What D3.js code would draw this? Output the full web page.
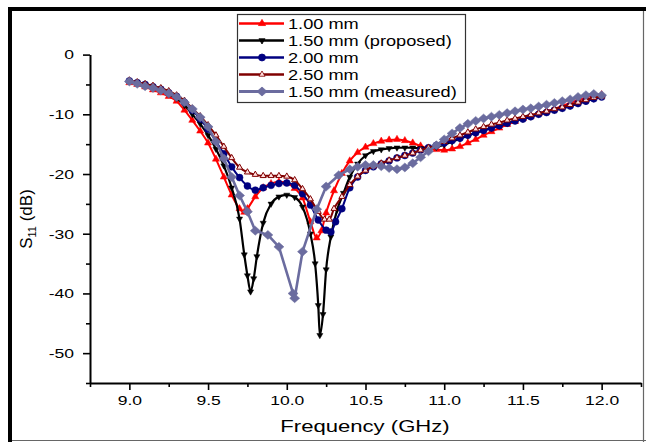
<!DOCTYPE html>
<html>
<head>
<meta charset="utf-8">
<script src="https://cdn.jsdelivr.net/npm/d3@7"></script>
<style>
  body { margin: 0; background: #fff; }
  text { font-family: "Liberation Sans", Arial, sans-serif; fill: #000; }
</style>
</head>
<body>
<div id="chart"></div>
<script>
// Data (frequency in GHz, S11 in dB)
var f100 = [9.00,9.05,9.10,9.15,9.20,9.25,9.30,9.35,9.40,9.45,9.50,9.55,9.60,9.65,9.70,9.73,9.75,9.80,9.85,9.90,9.95,10.00,10.05,10.10,10.15,10.19,10.22,10.25,10.30,10.35,10.40,10.45,10.50,10.55,10.60,10.65,10.70,10.75,10.80,10.85,10.90,10.95,11.00,11.05,11.10,11.15,11.20,11.25,11.30,11.35,11.40,11.45,11.50,11.55,11.60,11.65,11.70,11.75,11.80,11.85,11.90,11.95,12.00];
var s100 = [-4.7,-5.0,-5.4,-5.9,-6.4,-7.0,-7.8,-9.3,-11.0,-12.8,-14.8,-17.5,-20.5,-23.5,-25.8,-26.4,-25.8,-23.8,-22.3,-21.6,-21.3,-21.5,-22.4,-24.0,-28.0,-30.7,-29.5,-26.5,-22.8,-19.9,-17.8,-16.4,-15.5,-14.9,-14.5,-14.3,-14.2,-14.4,-14.8,-15.3,-15.7,-15.9,-16.0,-15.8,-15.4,-14.8,-14.2,-13.5,-12.9,-12.3,-11.7,-11.2,-10.7,-10.3,-9.9,-9.5,-9.1,-8.6,-8.1,-7.6,-7.2,-6.8,-6.7];

var f150 = [9.00,9.05,9.10,9.15,9.20,9.25,9.30,9.35,9.40,9.45,9.50,9.55,9.60,9.65,9.70,9.73,9.75,9.77,9.79,9.81,9.85,9.90,9.95,10.00,10.05,10.10,10.15,10.18,10.20,10.21,10.23,10.25,10.28,10.32,10.36,10.40,10.45,10.50,10.55,10.60,10.65,10.70,10.75,10.80,10.85,10.90,10.95,11.00,11.05,11.10,11.15,11.20,11.25,11.30,11.35,11.40,11.45,11.50,11.55,11.60,11.65,11.70,11.75,11.80,11.85,11.90,11.95,12.00];
var s150 = [-4.5,-4.8,-5.1,-5.5,-6.0,-6.6,-7.3,-8.5,-10.0,-11.6,-13.5,-15.8,-18.6,-22.3,-27.5,-33.5,-37.0,-39.7,-37.5,-33.8,-28.2,-25.0,-23.8,-23.5,-23.9,-25.5,-30.0,-35.0,-42.0,-47.0,-43.5,-36.0,-30.5,-26.0,-23.2,-20.5,-18.3,-16.9,-16.2,-15.9,-15.7,-15.6,-15.6,-15.6,-15.7,-15.7,-15.5,-15.1,-14.6,-14.1,-13.6,-13.1,-12.7,-12.3,-11.9,-11.5,-11.1,-10.8,-10.4,-10.0,-9.7,-9.3,-9.0,-8.6,-8.2,-7.8,-7.4,-7.0];

var f200 = [9.00,9.05,9.10,9.15,9.20,9.25,9.30,9.35,9.40,9.45,9.50,9.55,9.60,9.65,9.70,9.75,9.80,9.85,9.90,9.95,10.00,10.05,10.10,10.15,10.20,10.25,10.28,10.31,10.35,10.40,10.45,10.50,10.55,10.60,10.65,10.70,10.75,10.80,10.85,10.90,10.95,11.00,11.05,11.10,11.15,11.20,11.25,11.30,11.35,11.40,11.45,11.50,11.55,11.60,11.65,11.70,11.75,11.80,11.85,11.90,11.95,12.00];
var s200 = [-4.4,-4.7,-5.0,-5.4,-5.8,-6.4,-7.0,-8.0,-9.3,-10.8,-12.5,-14.5,-16.6,-18.8,-20.6,-22.0,-22.7,-22.3,-21.9,-21.6,-21.5,-21.9,-23.3,-25.2,-27.7,-29.4,-29.7,-28.0,-25.8,-22.3,-20.5,-19.4,-18.8,-18.3,-17.8,-17.3,-16.9,-16.5,-16.0,-15.6,-15.2,-14.8,-14.4,-14.0,-13.5,-13.1,-12.7,-12.3,-11.9,-11.5,-11.1,-10.8,-10.4,-10.0,-9.7,-9.3,-9.0,-8.6,-8.2,-7.8,-7.4,-7.1];

var f250 = [9.00,9.05,9.10,9.15,9.20,9.25,9.30,9.35,9.40,9.45,9.50,9.55,9.60,9.65,9.70,9.75,9.80,9.85,9.90,9.95,10.00,10.05,10.10,10.15,10.20,10.24,10.27,10.30,10.35,10.40,10.45,10.50,10.55,10.60,10.65,10.70,10.75,10.80,10.85,10.90,10.95,11.00,11.05,11.10,11.15,11.20,11.25,11.30,11.35,11.40,11.45,11.50,11.55,11.60,11.65,11.70,11.75,11.80,11.85,11.90,11.95,12.00];
var s250 = [-4.3,-4.6,-4.9,-5.2,-5.6,-6.1,-6.8,-7.7,-9.0,-10.3,-11.8,-13.5,-15.4,-17.3,-18.9,-19.7,-20.1,-20.3,-20.3,-20.3,-20.4,-21.0,-22.5,-24.2,-26.3,-27.6,-27.6,-25.8,-23.8,-21.8,-20.4,-19.4,-18.7,-18.2,-17.7,-17.3,-16.9,-16.5,-16.0,-15.6,-15.1,-14.6,-14.0,-13.5,-13.0,-12.5,-12.1,-11.7,-11.4,-11.0,-10.7,-10.4,-10.1,-9.8,-9.5,-9.1,-8.8,-8.4,-8.0,-7.6,-7.2,-7.0];

var fMeas = [9.00,9.05,9.10,9.15,9.20,9.25,9.30,9.35,9.40,9.45,9.50,9.55,9.60,9.65,9.70,9.75,9.80,9.88,9.95,10.04,10.05,10.10,10.19,10.25,10.33,10.40,10.45,10.50,10.55,10.60,10.65,10.70,10.75,10.80,10.85,10.90,10.95,11.00,11.05,11.10,11.15,11.20,11.25,11.30,11.35,11.40,11.45,11.50,11.55,11.60,11.65,11.70,11.75,11.80,11.85,11.90,11.95,12.00];
var sMeas = [-4.5,-4.9,-5.3,-5.6,-6.0,-6.5,-7.1,-8.0,-9.1,-10.5,-12.1,-14.6,-17.4,-20.5,-23.6,-26.3,-29.5,-30.2,-32.2,-40.0,-40.8,-33.0,-25.9,-22.1,-20.2,-19.2,-18.8,-18.5,-18.5,-18.7,-19.0,-19.2,-18.9,-18.2,-17.2,-16.2,-15.2,-14.2,-13.2,-12.3,-11.6,-11.1,-10.7,-10.4,-10.1,-9.8,-9.5,-9.2,-9.0,-8.7,-8.4,-8.1,-7.8,-7.5,-7.1,-6.8,-6.6,-6.8];

var seriesNames = ["1.00 mm", "1.50 mm (proposed)", "2.00 mm", "2.50 mm", "1.50 mm (measured)"];
var xMajor = [9.0, 9.5, 10.0, 10.5, 11.0, 11.5, 12.0];
var xMinor = [8.75, 9.25, 9.75, 10.25, 10.75, 11.25, 11.75, 12.25];
var yMajor = [0, -10, -20, -30, -40, -50];
var yMinor = [-5, -15, -25, -35, -45, -55];

var svgWidth = 646, svgHeight = 442;
var stretch = "scale(1.3,1)";

var svg = d3.select("#chart").append("svg")
  .attr("width", svgWidth)
  .attr("height", svgHeight);

svg.append("rect").attr("width", svgWidth).attr("height", svgHeight).attr("fill", "#fff");

// frame
svg.append("rect").attr("x", 8).attr("y", 7).attr("width", 638).attr("height", 4).attr("fill", "#000");
svg.append("rect").attr("x", 8).attr("y", 7).attr("width", 4).attr("height", 435).attr("fill", "#000");
svg.append("line").attr("x1", 643.5).attr("x2", 643.5).attr("y1", 11).attr("y2", 442)
  .attr("stroke", "#666").attr("stroke-width", 1.2);
svg.append("line").attr("x1", 12).attr("x2", 646).attr("y1", 440.5).attr("y2", 440.5)
  .attr("stroke", "#666").attr("stroke-width", 1.2);

// scales
var x = d3.scaleLinear().domain([8.75, 12.25]).range([90, 641]);
var y = d3.scaleLinear().domain([-55, 0]).range([383, 54.6]);

// axes
var xAxisG = svg.append("g").attr("transform", "translate(0,383)");
xAxisG.call(d3.axisBottom(x).tickValues(xMajor).tickSize(7).tickSizeOuter(0).tickFormat(d3.format(".1f")));
xAxisG.append("g").call(d3.axisBottom(x).tickValues(xMinor).tickSize(4).tickFormat(""))
  .select(".domain").remove();

var yAxisG = svg.append("g").attr("transform", "translate(90,0)");
yAxisG.call(d3.axisLeft(y).tickValues(yMajor).tickSize(7).tickSizeOuter(0).tickFormat(function(d) { return String(d); }));
yAxisG.append("g").call(d3.axisLeft(y).tickValues(yMinor).tickSize(4).tickFormat(""))
  .select(".domain").remove();

svg.selectAll(".domain").attr("stroke", "#000").attr("stroke-width", 2);
svg.selectAll(".tick line").attr("stroke", "#000").attr("stroke-width", 1.6);

xAxisG.selectAll(".tick text")
  .attr("font-size", "13.5px")
  .attr("font-family", "Liberation Sans, Arial, sans-serif")
  .attr("y", 0).attr("dy", null)
  .attr("transform", "translate(0,22) " + stretch);

yAxisG.selectAll(".tick text")
  .attr("font-size", "13.5px")
  .attr("font-family", "Liberation Sans, Arial, sans-serif")
  .attr("x", 0)
  .attr("transform", "translate(-16,0) " + stretch);

// axis titles
svg.append("text")
  .attr("transform", "translate(365,432) " + stretch)
  .attr("text-anchor", "middle")
  .attr("font-size", "17px")
  .text("Frequency (GHz)");

var yTitle = svg.append("text")
  .attr("transform", "translate(32,219) rotate(-90)")
  .attr("text-anchor", "middle")
  .attr("font-size", "17px");
yTitle.append("tspan").text("S");
yTitle.append("tspan").attr("font-size", "11px").attr("dy", "4").text("11");
yTitle.append("tspan").attr("dy", "-4").text(" (dB)");

// series
var diamond = "M0,-4.5L5,0L0,4.5L-5,0Z";
var series = [
  { name: seriesNames[0], f: f100, s: s100, color: "#ff0000", width: 2, sym: d3.symbol(d3.symbolTriangle, 22)(), fill: "#ff0000", rot: 0, linear: false },
  { name: seriesNames[1], f: f150, s: s150, color: "#000000", width: 2.2, sym: d3.symbol(d3.symbolTriangle, 16)(), fill: "#000000", rot: 180, linear: false },
  { name: seriesNames[2], f: f200, s: s200, color: "#000080", width: 2, sym: d3.symbol(d3.symbolCircle, 38)(), fill: "#000080", rot: 0, linear: false },
  { name: seriesNames[3], f: f250, s: s250, color: "#800000", width: 2, sym: d3.symbol(d3.symbolTriangle, 16)(), fill: "#ffdddd", rot: 0, linear: false },
  { name: seriesNames[4], f: fMeas, s: sMeas, color: "#6b6c9f", width: 2.6, sym: diamond, fill: "#6b6c9f", rot: 0, linear: true }
];

var plot = svg.append("g");

series.forEach(function(sr) {
  var pts = sr.f.map(function(f, i) { return { f: f, s: sr.s[i] }; });
  var line = d3.line()
    .x(function(d) { return x(d.f); })
    .y(function(d) { return y(d.s); })
    .curve(sr.linear ? d3.curveLinear : d3.curveMonotoneX);

  var g = plot.append("g");
  g.append("path")
    .datum(pts)
    .attr("d", line)
    .attr("fill", "none")
    .attr("stroke", sr.color)
    .attr("stroke-width", sr.width)
    .attr("stroke-linejoin", "round");

  g.selectAll("path.mark")
    .data(pts)
    .enter()
    .append("path")
    .attr("class", "mark")
    .attr("d", sr.sym)
    .attr("transform", function(d) { return "translate(" + x(d.f) + "," + y(d.s) + ") rotate(" + sr.rot + ")"; })
    .attr("fill", sr.fill)
    .attr("stroke", sr.color)
    .attr("stroke-width", sr.fill === sr.color ? 0.5 : 1);
});

// legend
var legend = svg.append("g");
legend.append("rect")
  .attr("x", 237.5).attr("y", 14.5)
  .attr("width", 228).attr("height", 88)
  .attr("fill", "#fff")
  .attr("stroke", "#333")
  .attr("stroke-width", 1.2);

series.forEach(function(sr, i) {
  var cy = 23.5 + i * 17;
  var row = legend.append("g");
  row.append("line")
    .attr("x1", 239).attr("x2", 284)
    .attr("y1", cy).attr("y2", cy)
    .attr("stroke", sr.color)
    .attr("stroke-width", sr.width + 0.4);
  row.append("path")
    .attr("d", sr.sym)
    .attr("transform", "translate(262," + cy + ") rotate(" + sr.rot + ")")
    .attr("fill", sr.fill)
    .attr("stroke", sr.color)
    .attr("stroke-width", 0.8);
  row.append("text")
    .attr("transform", "translate(288," + (cy + 5) + ") " + stretch)
    .attr("font-size", "14px")
    .text(sr.name);
});
</script>
</body>
</html>
